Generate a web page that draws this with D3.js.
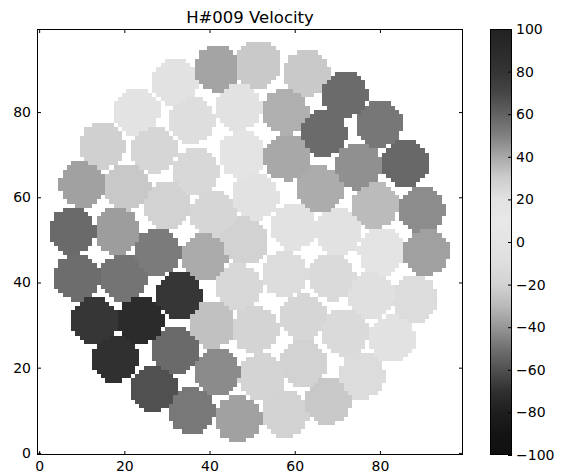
<!DOCTYPE html>
<html>
<head>
<meta charset="utf-8">
<script src="https://cdn.jsdelivr.net/npm/d3@7"></script>
<style>
  html, body { margin: 0; padding: 0; background: #fff; }
  svg { display: block; }
  text { font-family: "DejaVu Sans", sans-serif; fill: #000; }
</style>
</head>
<body>
<svg id="chart" width="561" height="473"></svg>
<script>
// ---------------- data ----------------
const title = "H#009 Velocity";

// fiber centres (image pixel coordinates) and their velocities
const fiberX = [41.8, 51.4, 62.8, 31.8, 71.8, 22.9, 35.8, 46.7, 57.8, 79.9,
                66.8, 14.8, 26.9, 47.6, 58.2, 75.0, 85.9, 36.7, 10.3, 20.6,
                30.0, 40.9, 50.7, 65.9, 78.9, 89.8, 7.7, 18.3, 27.8, 38.8,
                48.3, 59.8, 70.3, 80.4, 90.9, 8.9, 19.7, 32.8, 46.7, 57.7,
                68.6, 78.0, 88.2, 12.9, 23.7, 40.6, 50.7, 62.0, 71.8, 82.8,
                17.9, 31.9, 41.8, 52.3, 62.1, 75.7, 26.9, 35.8, 46.7, 57.7,
                67.9];
const fiberY = [90.2, 91.2, 89.1, 87.0, 84.1, 80.1, 78.1, 81.1, 80.2, 77.1,
                75.1, 72.1, 71.3, 70.1, 69.4, 67.3, 68.0, 66.1, 63.1, 62.4,
                58.1, 56.1, 60.2, 61.9, 58.1, 57.0, 52.1, 52.1, 47.1, 46.0,
                49.7, 53.1, 51.9, 47.2, 47.1, 41.2, 41.2, 37.0, 38.9, 42.0,
                41.3, 37.0, 36.1, 31.0, 31.1, 30.2, 29.0, 31.8, 28.3, 26.7,
                22.1, 24.0, 19.0, 17.8, 21.0, 18.1, 15.1, 9.9, 8.0, 9.2,
                12.1];
const fiberVel = [41, 31, 31, 20, 57, 18, 22, 20, 38, 53,
                  57, -21, -17, 17, 40, 46, 58, 25, -37, -24,
                  -20, -17, 20, 39, 35, 47, -52, -38, -47, -34,
                  -20, 20, 20, 17, 42, -51, -49, -68, -15, -12,
                  24, 21, 23, -68, -73, -27, -18, -17, -13, 20,
                  -70, -52, -43, -18, -20, -12, -60, -48, -37, -20,
                  -24];
const fiberRadius = 5.5;     // fiber radius in image pixels
const gridSize = 100;        // image is 100 x 100 pixels

// colour map: velocity -> grey level
const cmapValues = [-100, -90, -80, -70, -60, -50, -40, -30, -20, -10, 0, 10, 20, 30, 40, 50, 60, 70, 80, 90, 100];
const cmapGrays  = [16, 20, 30, 48, 80, 112, 150, 185, 210, 222, 228, 232, 226, 205, 168, 128, 98, 70, 52, 42, 34];

const xTicks = [0, 20, 40, 60, 80];
const yTicks = [0, 20, 40, 60, 80];
const cbarTicks = [100, 80, 60, 40, 20, 0, -20, -40, -60, -80, -100];
const velDomain = [-100, 100];

// ---------------- layout ----------------
const plot = { left: 37, right: 463, top: 29, bottom: 455 };
const cbar = { left: 490, right: 512, top: 29, bottom: 455 };

const svg = d3.select("#chart");

const x = d3.scaleLinear().domain([-0.5, gridSize - 0.5]).range([plot.left, plot.right]);
const y = d3.scaleLinear().domain([-0.5, gridSize - 0.5]).range([plot.bottom, plot.top]);
const grayScale = d3.scaleLinear().domain(cmapValues).range(cmapGrays).clamp(true);
const color = v => { const g = Math.round(grayScale(v)); return `rgb(${g},${g},${g})`; };

// rasterise fibers onto the pixel grid (nearest fiber within radius)
const cells = [];
for (let j = 0; j < gridSize; j++) {
  for (let i = 0; i < gridSize; i++) {
    let best = -1, bestD = Infinity;
    for (let k = 0; k < fiberX.length; k++) {
      const d = Math.hypot(i - fiberX[k], j - fiberY[k]);
      if (d <= fiberRadius && d < bestD) { bestD = d; best = k; }
    }
    if (best >= 0) cells.push({ i, j, v: fiberVel[best] });
  }
}

svg.append("g").attr("shape-rendering", "crispEdges")
  .selectAll("rect").data(cells).join("rect")
  .attr("x", d => x(d.i - 0.5))
  .attr("y", d => y(d.j + 0.5))
  .attr("width", d => x(d.i + 0.5) - x(d.i - 0.5))
  .attr("height", d => y(d.j - 0.5) - y(d.j + 0.5))
  .attr("fill", d => color(d.v));

// axes
const tickFont = 14;
function styleAxis(g) {
  g.select(".domain").remove();
  g.selectAll("line").attr("stroke", "#000");
  g.selectAll("text").style("font-size", tickFont + "px").style("font-family", "DejaVu Sans");
}
svg.append("g").attr("transform", `translate(0,${plot.bottom})`)
  .call(d3.axisBottom(x).tickValues(xTicks).tickSizeInner(-4).tickSizeOuter(0).tickPadding(6))
  .call(styleAxis);
svg.append("g").attr("transform", `translate(0,${plot.top})`)
  .call(d3.axisTop(x).tickValues(xTicks).tickSizeInner(-4).tickSizeOuter(0).tickFormat(""))
  .call(styleAxis);
svg.append("g").attr("transform", `translate(${plot.left},0)`)
  .call(d3.axisLeft(y).tickValues(yTicks).tickSizeInner(-4).tickSizeOuter(0).tickPadding(6))
  .call(styleAxis);
svg.append("g").attr("transform", `translate(${plot.right},0)`)
  .call(d3.axisRight(y).tickValues(yTicks).tickSizeInner(-4).tickSizeOuter(0).tickFormat(""))
  .call(styleAxis);

// frame
svg.append("rect")
  .attr("x", plot.left + 0.5).attr("y", plot.top + 0.5)
  .attr("width", plot.right - plot.left - 1).attr("height", plot.bottom - plot.top - 1)
  .attr("fill", "none").attr("stroke", "#000").attr("stroke-width", 1);

// title
svg.append("text")
  .attr("x", (plot.left + plot.right) / 2).attr("y", 23)
  .attr("text-anchor", "middle")
  .style("font-size", "16.5px")
  .text(title);

// colour bar
const cy = d3.scaleLinear().domain(velDomain).range([cbar.bottom, cbar.top]);
const defs = svg.append("defs");
const grad = defs.append("linearGradient").attr("id", "cbarGrad")
  .attr("x1", 0).attr("y1", 1).attr("x2", 0).attr("y2", 0);
grad.selectAll("stop").data(cmapValues).join("stop")
  .attr("offset", v => (v - velDomain[0]) / (velDomain[1] - velDomain[0]))
  .attr("stop-color", v => color(v));
svg.append("rect")
  .attr("x", cbar.left).attr("y", cy(velDomain[1]))
  .attr("width", cbar.right - cbar.left).attr("height", cy(velDomain[0]) - cy(velDomain[1]))
  .attr("fill", "url(#cbarGrad)");
svg.append("g").attr("transform", `translate(${cbar.right},0)`)
  .call(d3.axisRight(cy).tickValues(cbarTicks).tickSizeInner(-4).tickSizeOuter(0).tickPadding(4))
  .call(styleAxis);
svg.append("rect")
  .attr("x", cbar.left + 0.5).attr("y", cbar.top + 0.5)
  .attr("width", cbar.right - cbar.left - 1).attr("height", cbar.bottom - cbar.top - 1)
  .attr("fill", "none").attr("stroke", "#000").attr("stroke-width", 1);
</script>
</body>
</html>
